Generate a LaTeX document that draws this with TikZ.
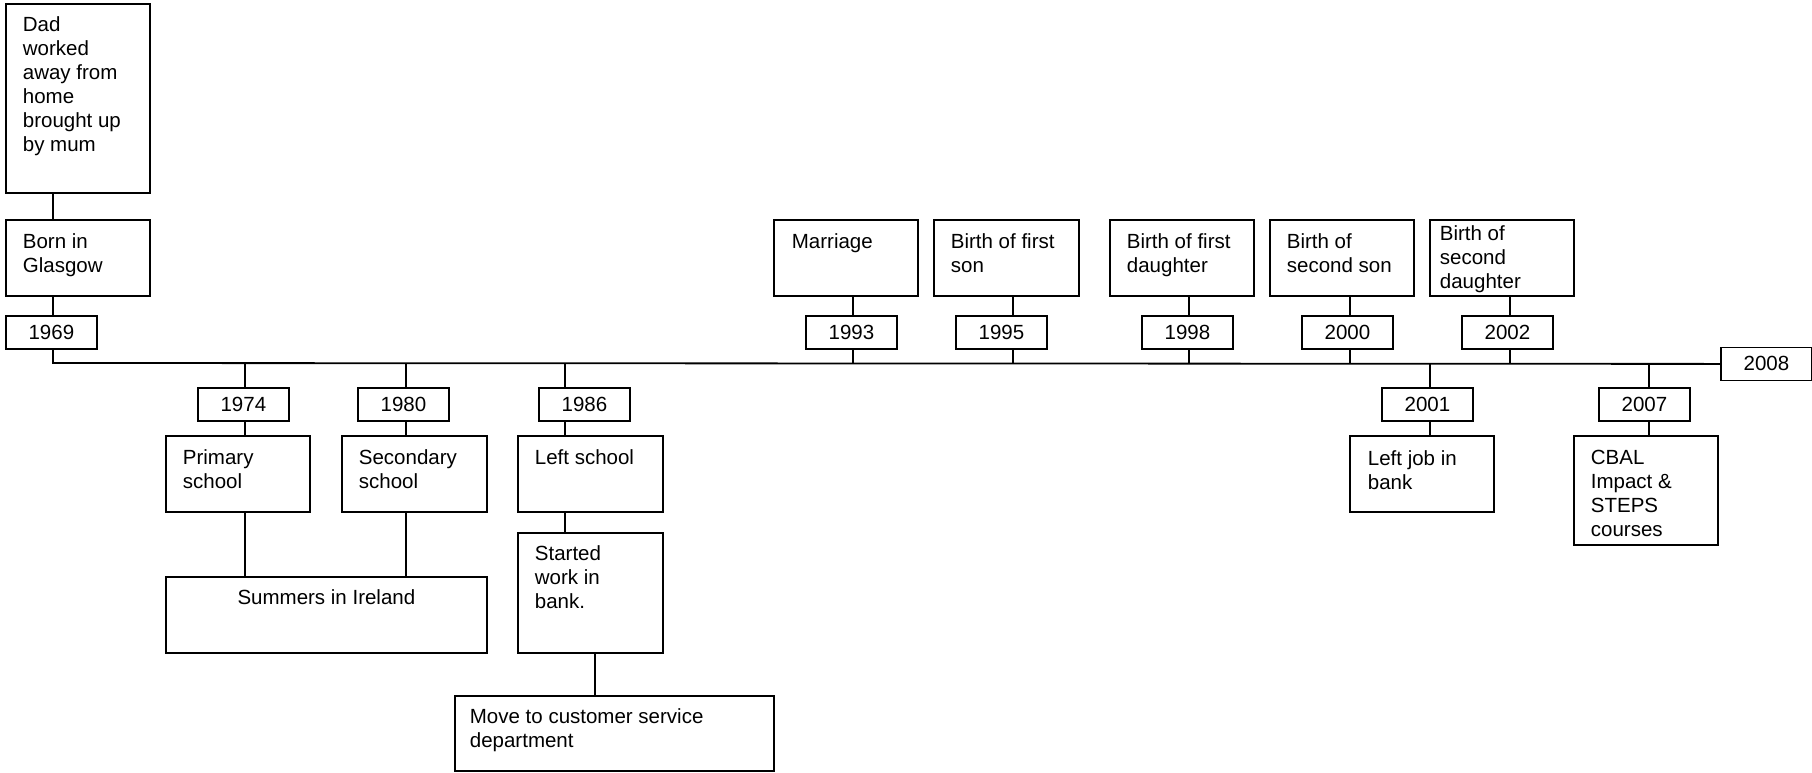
\documentclass[tikz,border=0pt]{standalone}
\usepackage{fontspec}
\setmainfont{Liberation Sans}
% event text block: width, height, left inset, first baseline, lines
\newcommand\evtext[5]{\parbox[t][#2][t]{#1}{\raggedright\setlength{\leftskip}{#3}\rule{0pt}{#4}\ignorespaces#5}}
\begin{document}
\begin{tikzpicture}[x=1pt,y=-1pt,
  box/.style={draw, line width=1.8pt, inner sep=0pt, anchor=north west,
    font=\fontsize{20.5}{24}\selectfont},
  yearbox/.style={box, minimum width=91pt, minimum height=33pt},
  link/.style={line width=1.8pt}]
\useasboundingbox (0,0) rectangle (1812,772);

% ---- early life ----
\node[box] (dad) at (5,3) {\evtext{144pt}{189pt}{17pt}{28pt}{Dad\\worked\\away from\\home\\brought up\\by mum}};
\node[box] (born) at (5,219) {\evtext{144pt}{76pt}{17pt}{29pt}{Born in\\Glasgow}};
\node[yearbox] (y1969) at (5,315) {1969};

% ---- below the line ----
\node[yearbox] (y1974) at (197,387) {1974};
\node[box] (primary) at (165,435) {\evtext{144pt}{76pt}{17pt}{29pt}{Primary\\school}};
\node[yearbox] (y1980) at (357,387) {1980};
\node[box] (secondary) at (341,435) {\evtext{145pt}{76pt}{17pt}{29pt}{Secondary\\school}};
\node[box] (summers) at (165,576) {\parbox[t][76pt][t]{321pt}{\centering\rule{0pt}{28pt}Summers in Ireland}};
\node[yearbox] (y1986) at (538,387) {1986};
\node[box] (leftschool) at (517,435) {\evtext{145pt}{76pt}{17pt}{29pt}{Left school}};
\node[box] (started) at (517,532) {\evtext{145pt}{120pt}{17pt}{28pt}{Started\\work in\\bank.}};
\node[box] (move) at (454,695) {\evtext{319pt}{75pt}{15pt}{28pt}{Move to customer service\\department}};
\node[yearbox] (y2001) at (1381,387) {2001};
\node[box] (leftjob) at (1349,435) {\evtext{144pt}{76pt}{18pt}{30pt}{Left job in\\bank}};
\node[yearbox] (y2007) at (1598,387) {2007};
\node[box] (cbal) at (1573,435) {\evtext{144pt}{109pt}{17pt}{29pt}{CBAL\\Impact \&\\STEPS\\courses}};

% ---- above the line ----
\node[box] (marriage) at (773,219) {\evtext{144pt}{76pt}{18pt}{29pt}{Marriage}};
\node[yearbox] (y1993) at (805,315) {1993};
\node[box] (son1) at (933,219) {\evtext{145pt}{76pt}{17pt}{29pt}{Birth of first\\son}};
\node[yearbox] (y1995) at (955,315) {1995};
\node[box] (dau1) at (1109,219) {\evtext{144pt}{76pt}{17pt}{29pt}{Birth of first\\daughter}};
\node[yearbox] (y1998) at (1141,315) {1998};
\node[box] (son2) at (1269,219) {\evtext{144pt}{76pt}{17pt}{29pt}{Birth of\\second son}};
\node[yearbox] (y2000) at (1301,315) {2000};
\node[box] (dau2) at (1429,219) {\evtext{144pt}{76pt}{10pt}{21pt}{Birth of\\second\\daughter}};
\node[yearbox] (y2002) at (1461,315) {2002};
\node[yearbox] (y2008) at (1720,346.5) {2008};

% ---- points on the time line ----
\coordinate (t1969) at (53,363);
\coordinate (t1974) at (245,363);
\coordinate (t1980) at (406,363);
\coordinate (t1986) at (565,363);
\coordinate (t1993) at (853,363);
\coordinate (t1995) at (1013,363);
\coordinate (t1998) at (1189,363);
\coordinate (t2000) at (1350,363);
\coordinate (t2001) at (1430,363);
\coordinate (t2002) at (1510,363);
\coordinate (t2007) at (1649,363);
\coordinate (tmove) at (595,363);

% time line
\draw[link] (t1969 |- y1969.south) -- (t1969) -- (y2008.west);

% early life links
\draw[link] (t1969 |- dad.south) -- (t1969 |- born.north);
\draw[link] (t1969 |- born.south) -- (t1969 |- y1969.north);

% links below the line
\draw[link] (t1974) -- (t1974 |- y1974.north);
\draw[link] (t1974 |- y1974.south) -- (t1974 |- primary.north);
\draw[link] (t1974 |- primary.south) -- (t1974 |- summers.north);
\draw[link] (t1980) -- (t1980 |- y1980.north);
\draw[link] (t1980 |- y1980.south) -- (t1980 |- secondary.north);
\draw[link] (t1980 |- secondary.south) -- (t1980 |- summers.north);
\draw[link] (t1986) -- (t1986 |- y1986.north);
\draw[link] (t1986 |- y1986.south) -- (t1986 |- leftschool.north);
\draw[link] (t1986 |- leftschool.south) -- (t1986 |- started.north);
\draw[link] (tmove |- started.south) -- (tmove |- move.north);
\draw[link] (t2001) -- (t2001 |- y2001.north);
\draw[link] (t2001 |- y2001.south) -- (t2001 |- leftjob.north);
\draw[link] (t2007) -- (t2007 |- y2007.north);
\draw[link] (t2007 |- y2007.south) -- (t2007 |- cbal.north);

% links above the line
\foreach \yr/\ev in {1993/marriage, 1995/son1, 1998/dau1, 2000/son2, 2002/dau2} {
  \draw[link] (t\yr) -- (t\yr |- y\yr.south);
  \draw[link] (t\yr |- y\yr.north) -- (t\yr |- \ev.south);
}
\end{tikzpicture}
\end{document}
